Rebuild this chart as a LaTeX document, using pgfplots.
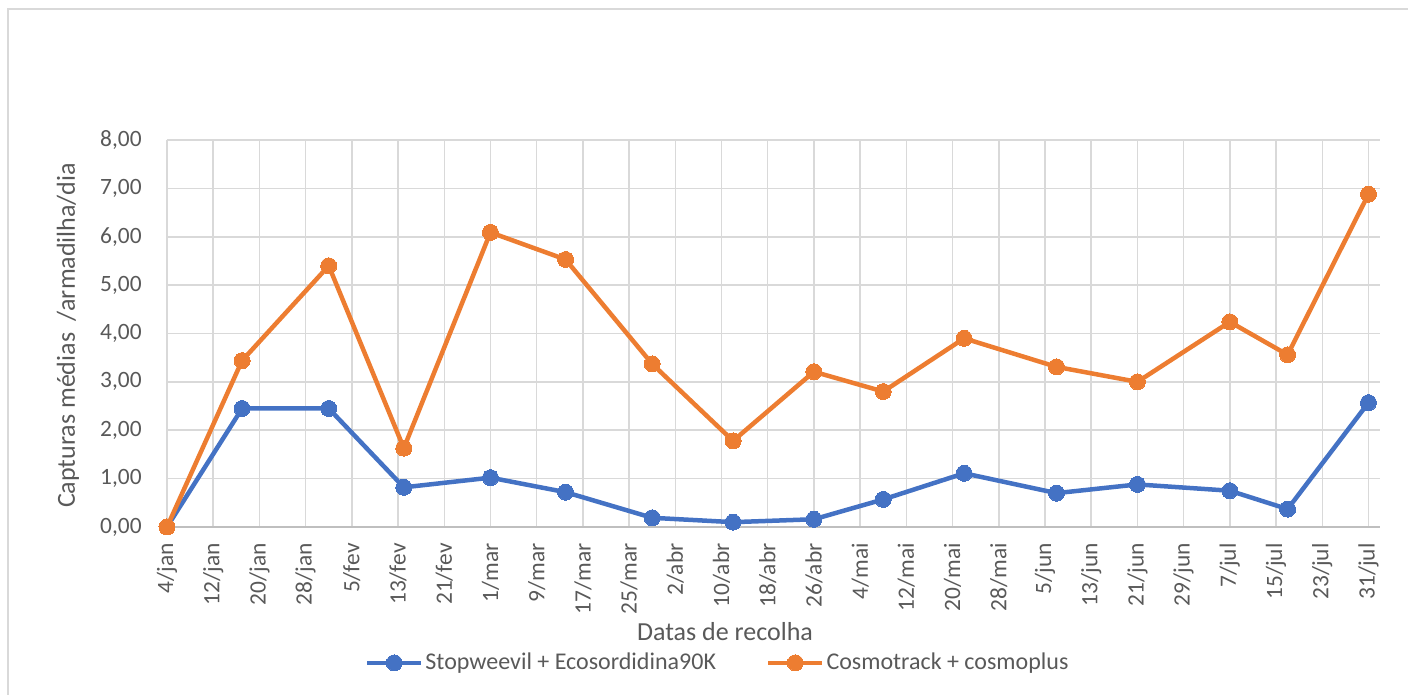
\documentclass[border=0pt]{standalone}
\usepackage{pgfplots}
\pgfplotsset{compat=1.18}
\usepackage{fontspec}
\setmainfont{Carlito}
\definecolor{sblue}{HTML}{4472C4}
\definecolor{sorange}{HTML}{ED7D31}
\definecolor{gridc}{HTML}{D9D9D9}
\definecolor{axc}{HTML}{BFBFBF}
\definecolor{txt}{HTML}{595959}
\begin{document}
\begin{tikzpicture}[x=1pt,y=1pt]
\useasboundingbox (0,0) rectangle (704,347.5);
\draw[gridc,line width=0.75pt] (4,0) -- (4,343) -- (704,343);
\begin{axis}[
  at={(83.5pt,84pt)}, anchor=south west,
  scale only axis, width=606.5pt, height=193.5pt,
  xmin=0, xmax=210, ymin=0, ymax=8,
  clip=false,
  xtick={0,8,...,208},
  xticklabels={4/jan,12/jan,20/jan,28/jan,5/fev,13/fev,21/fev,1/mar,9/mar,17/mar,25/mar,2/abr,10/abr,18/abr,26/abr,4/mai,12/mai,20/mai,28/mai,5/jun,13/jun,21/jun,29/jun,7/jul,15/jul,23/jul,31/jul},
  ytick={0,1,...,8},
  grid=major,
  major grid style={gridc,line width=0.75pt},
  major tick length=0pt,
  axis x line*=bottom, axis y line*=left,
  x axis line style={axc,line width=1pt,-},
  y axis line style={draw=none},
  /pgf/number format/.cd, fixed, fixed zerofill, precision=2, use comma, assume math mode=true,
  /pgfplots/.cd,
  tick label style={font=\fontsize{11.7}{13}\selectfont, text=txt},
  xticklabel style={rotate=90, anchor=east, inner xsep=8pt},
  yticklabel style={anchor=east, inner xsep=12.5pt},
  xlabel={Datas de recolha},
  xlabel style={at={(axis description cs:0.46,-0.271)}, anchor=center, font=\fontsize{13}{15}\selectfont, text=txt},
  ylabel={Capturas médias\hspace{0.45em}/armadilha/dia},
  ylabel style={at={(axis description cs:-0.0816,0.495)}, anchor=center, font=\fontsize{13}{15}\selectfont, text=txt},
  legend columns=2,
  legend style={at={(axis description cs:0.454,-0.351)}, anchor=center, draw=none, fill=none,
    font=\fontsize{12}{14}\selectfont, text=txt,
    nodes={inner xsep=1pt},
    /tikz/every even column/.append style={column sep=24pt}},
  legend cell align=left,
  legend image code/.code={\draw[mark repeat=2,mark phase=2,#1] plot coordinates {(0pt,0pt) (13.5pt,0pt) (27pt,0pt)};},
]
\addplot[sblue, line width=2.25pt, mark=*, mark size=4pt, mark options={solid, fill=sblue, draw=sblue, line width=0pt}] coordinates {
(0,0) (13,2.45) (28,2.45) (41,0.82) (56,1.02) (69,0.72) (84,0.19) (98,0.10) (112,0.16) (124,0.57) (138,1.11) (154,0.70) (168,0.88) (184,0.75) (194,0.37) (208,2.57)};
\addlegendentry{Stopweevil + Ecosordidina90K}
\addplot[sorange, line width=2.25pt, mark=*, mark size=4pt, mark options={solid, fill=sorange, draw=sorange, line width=0pt}] coordinates {
(0,0) (13,3.44) (28,5.40) (41,1.63) (56,6.09) (69,5.53) (84,3.37) (98,1.78) (112,3.21) (124,2.80) (138,3.90) (154,3.31) (168,3.00) (184,4.24) (194,3.56) (208,6.88)};
\addlegendentry{Cosmotrack + cosmoplus}
\end{axis}
\end{tikzpicture}
\end{document}
